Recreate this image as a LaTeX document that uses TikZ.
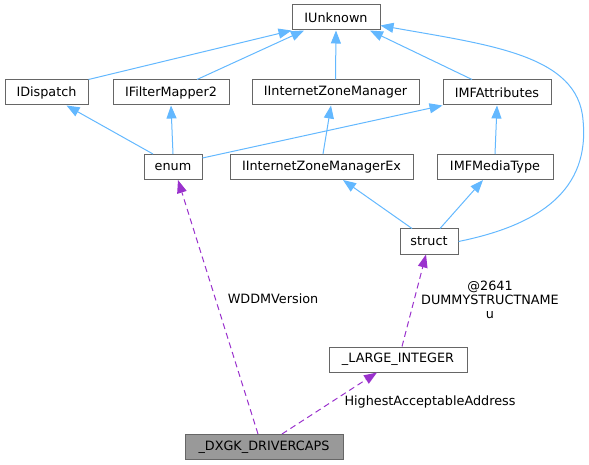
\documentclass[tikz,border=0pt]{standalone}
\usepackage{fontspec}
\setmainfont{DejaVu Sans}
\usetikzlibrary{arrows.meta}
\definecolor{inhblue}{HTML}{63B8FF}
\definecolor{usepurple}{HTML}{9A32CD}
\definecolor{boxgray}{HTML}{666666}
\definecolor{fillgray}{HTML}{999999}
\begin{document}
\begin{tikzpicture}[x=1pt, y=-1pt, line width=1pt,
	every node/.style={rectangle, inner sep=0pt, font=\fontsize{12.8}{15}\selectfont},
	cls/.style={draw=boxgray, fill=white, minimum height=25pt},
	inh/.style={draw=inhblue, -{Triangle[length=13pt, width=10pt]}},
	usage/.style={draw=usepurple, dash pattern=on 6pt off 4pt, -{Triangle[length=13pt, width=10pt, fill=usepurple, line width=0pt]}},
	lbl/.style={align=center, font=\fontsize{12.8}{14}\selectfont}]
	\useasboundingbox (0,0) rectangle (589,465);
	\node[cls, minimum width=88pt] (IUnknown) at (336, 17.5) {IUnknown};
	\node[cls, minimum width=83pt] (IDispatch) at (46.5, 92.5) {IDispatch};
	\node[cls, minimum width=116pt] (IFilterMapper) at (171, 92.5) {IFilterMapper2};
	\node[cls, minimum width=167pt] (IZoneManager) at (335.5, 92.5) {IInternetZoneManager};
	\node[cls, minimum width=108pt] (IMFAttributes) at (497, 92.5) {IMFAttributes};
	\node[cls, minimum width=58pt] (enum) at (173, 167) {enum};
	\node[cls, minimum width=183pt] (IZoneManagerEx) at (321.5, 167) {IInternetZoneManagerEx};
	\node[cls, minimum width=116pt] (IMFMediaType) at (495, 167) {IMFMediaType};
	\node[cls, minimum width=58pt] (struct) at (429, 241.5) {struct};
	\node[cls, minimum width=138pt] (largeInt) at (398, 359.5) {\_LARGE\_INTEGER};
	\node[cls, fill=fillgray, minimum width=158pt] (driverCaps) at (264, 447) {\_DXGK\_DRIVERCAPS};
	\draw[inh] (IDispatch.north east) -- (IUnknown.south west);
	\draw[inh] ([xshift=26pt]IFilterMapper.north) -- ([xshift=-32pt]IUnknown.south);
	\draw[inh] (IZoneManager.north) -- (IUnknown.south);
	\draw[inh] ([xshift=-25pt]IMFAttributes.north) -- ([xshift=34pt]IUnknown.south);
	\draw[inh] (struct.east) .. controls (540,225) and (590,190) .. (583,120) .. controls (578,55) and (490,45) .. ([yshift=-8pt]IUnknown.east);
	\draw[inh] ([xshift=-20pt]enum.north) -- ([xshift=20pt]IDispatch.south);
	\draw[inh] (enum.north) -- (IFilterMapper.south);
	\draw[inh] ([yshift=-4pt]enum.north east) -- (IMFAttributes.south west);
	\draw[inh] ([xshift=1.5pt]IZoneManagerEx.north) -- ([xshift=-4.5pt]IZoneManager.south);
	\draw[inh] (IMFMediaType.north) -- (IMFAttributes.south);
	\draw[inh] ([xshift=-17pt]struct.north) -- ([xshift=21.5pt]IZoneManagerEx.south);
	\draw[inh] ([xshift=11pt]struct.north) -- ([xshift=-12pt]IMFMediaType.south);
	\draw[usage] ([xshift=-6pt]driverCaps.north) -- ([xshift=5pt]enum.south);
	\node[lbl] (wddmText) at (273, 299) {WDDMVersion};
	\draw[usage] ([xshift=18pt]driverCaps.north) -- ([xshift=-21pt]largeInt.south);
	\node[lbl] (addressText) at (430, 402) {HighestAcceptableAddress};
	\draw[usage] ([xshift=4pt]largeInt.north) -- ([xshift=-3pt]struct.south);
	\node[lbl] (dummyText) at (490, 300) {@2641\\DUMMYSTRUCTNAME\\u};
\end{tikzpicture}
\end{document}
